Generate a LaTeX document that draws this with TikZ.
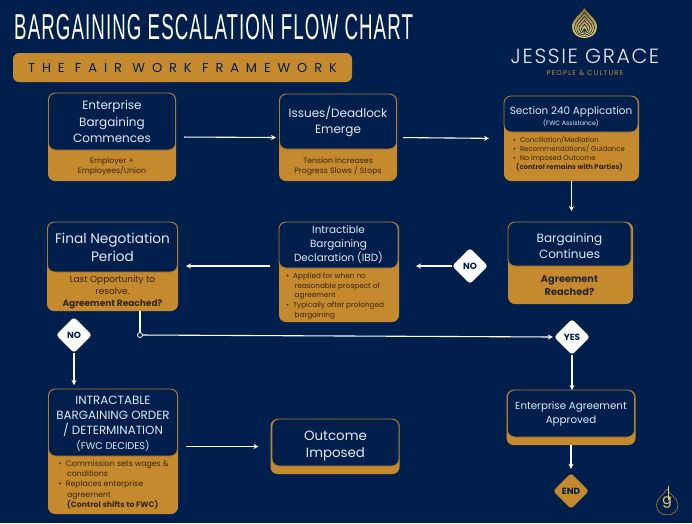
\documentclass[tikz,border=0pt]{standalone}
\usepackage{fontspec}
\setmainfont{Poppins}
\newfontfamily\titlefont[FakeStretch=0.52,LetterSpace=3]{Liberation Sans}
\newfontfamily\framefont[LetterSpace=53]{Poppins}
\newfontfamily\brandfont[LetterSpace=8]{Poppins Light}
\newfontfamily\tagfont[LetterSpace=16]{Poppins}
\usetikzlibrary{shapes.geometric, arrows.meta, positioning}
\definecolor{bgnavy}{HTML}{001F4D}
\definecolor{cardgold}{HTML}{C68A2E}
\definecolor{edgegold}{HTML}{B07C30}
\definecolor{headtext}{HTML}{E3E8F1}
\definecolor{goldtext}{HTML}{35260F}
\definecolor{logolight}{HTML}{F6DC7C}
\definecolor{logodark}{HTML}{8A6C30}

\begin{document}
\begin{tikzpicture}[
  x=1pt, y=-1pt,
  >={Stealth[length=5pt,width=5pt]},
  goldbox/.style={
    rectangle, rounded corners=7pt, fill=cardgold, inner sep=0pt, outer sep=0pt
  },
  headbox/.style={
    rectangle, rounded corners=7pt, fill=bgnavy, draw=edgegold, line width=0.9pt,
    inner sep=0pt, outer sep=0pt, text=headtext, align=center
  },
  goldnote/.style={
    text=goldtext, align=center, inner sep=0pt, font=\fontsize{7.8}{10}\selectfont
  },
  bulletnote/.style={
    text=goldtext, align=left, inner sep=0pt, font=\fontsize{7.3}{9.6}\selectfont
  },
  choice/.style={
    diamond, aspect=1, fill=white, rounded corners=3pt, inner sep=0pt,
    minimum width=36pt, minimum height=36pt, text=bgnavy,
    font=\fontsize{9}{10}\selectfont\bfseries
  },
  flow/.style={
    ->, line width=1.1pt, color=white
  }
]

% Background
\fill[bgnavy] (0,0) rectangle (692,523);

% Heading
\node[text=white, inner sep=0pt, anchor=west, font=\fontsize{36}{40}\titlefont]
  (title) at (14,27) {BARGAINING ESCALATION FLOW CHART};
\node[goldbox, rounded corners=6pt, minimum width=339pt, minimum height=29pt]
  (framebar) at (182.5,67.5) {};
\node[text=bgnavy, inner sep=0pt, font=\fontsize{13}{14}\framefont]
  (frametext) at (framebar) {THE FAIR WORK FRAMEWORK};

% Brand
\fill[bottom color=logolight, top color=logodark]
  (584.5,8) .. controls (588,14) and (597,19) .. (597,27)
  .. controls (597,34) and (591,38) .. (584.5,38)
  .. controls (578,38) and (572,34) .. (572,27)
  .. controls (572,19) and (581,14) .. (584.5,8) -- cycle;
\foreach \s in {0.8,0.62,0.44,0.26}{
  \draw[bgnavy, line width=0.55pt, shift={(584.5,30)}, scale=\s]
    (0,-22) .. controls (3.5,-16) and (12.5,-11) .. (12.5,-3)
    .. controls (12.5,4) and (6.5,8) .. (0,8)
    .. controls (-6.5,8) and (-12.5,4) .. (-12.5,-3)
    .. controls (-12.5,-11) and (-3.5,-16) .. (0,-22) -- cycle;
}
\fill[bgnavy] (584.5,30) circle (1.6pt);
\node[text=headtext, inner sep=0pt, font=\fontsize{20.5}{24}\brandfont]
  (brand) at (585,56) {JESSIE GRACE};
\node[text=cardgold, inner sep=0pt, font=\fontsize{7}{9}\tagfont]
  (brandtag) at (585,73) {PEOPLE \& CULTURE};

% Enterprise bargaining
\node[goldbox, minimum width=128pt, minimum height=88pt] (startg) at (112,137) {};
\node[headbox, minimum width=127pt, minimum height=57pt,
      font=\fontsize{12}{16.5}\selectfont] (starth) at (112,121.5)
  {Enterprise\\Bargaining\\Commences\rule{0pt}{13pt}};
\node[goldnote, below=8pt of starth] (startn) {Employer +\\Employees/Union};

% Issues
\node[goldbox, minimum width=118pt, minimum height=87pt] (issuesg) at (338,137.5) {};
\node[headbox, minimum width=117pt, minimum height=55pt,
      font=\fontsize{12}{16.5}\selectfont] (issuesh) at (338,121.5)
  {Issues/Deadlock\\Emerge};
\node[goldnote, below=8pt of issuesh] (issuesn) {Tension Increases\\Progress Slows / Stops};

% Section 240
\node[goldbox, minimum width=135pt, minimum height=85pt] (sectiong) at (571.5,138.5) {};
\node[headbox, minimum width=134pt, minimum height=36pt] (sectionh) at (571,114)
  {\rule{0pt}{14pt}{\fontsize{10.4}{12.5}\selectfont Section 240 Application}\\[-1pt]
   {\fontsize{6.3}{7.5}\selectfont (FWC Assistance)}};
\node[bulletnote, anchor=north west, below right=4pt and 9pt of sectionh.south west,
      font=\fontsize{6.9}{9}\selectfont] (sectionn)
  {•\hspace{4pt}Conciliation/Mediation\\
   •\hspace{4pt}Recommendations/ Guidance\\
   •\hspace{4pt}No Imposed Outcome\\
   \hspace{3pt}\textbf{(control remains with Parties)}};

% Bargaining continues
\node[goldbox, minimum width=125pt, minimum height=82pt] (continuesg) at (570.5,263) {};
\node[headbox, minimum width=123pt, minimum height=44pt,
      font=\fontsize{12}{16}\selectfont] (continuesh) at (569.5,244)
  {\rule{0pt}{13pt}Bargaining\\Continues};
\node[goldnote, below=9pt of continuesh, font=\fontsize{9.8}{13}\selectfont\bfseries,
      text=black!85] (continuesn) {Agreement\\Reached?};

% Intractable bargaining declaration
\node[goldbox, minimum width=120pt, minimum height=100pt] (ibdg) at (339,272) {};
\node[headbox, minimum width=119pt, minimum height=46pt,
      font=\fontsize{10.4}{14}\selectfont] (ibdh) at (338.5,245)
  {Intractible\\Bargaining\\Declaration (IBD)};
\node[bulletnote, below right=5pt and 7pt of ibdh.south west] (ibdn)
  {•\hspace{4pt}Applied for when no\\
   \hspace{8.5pt}reasonable prospect of\\
   \hspace{8.5pt}agreement\\
   •\hspace{4pt}Typically after prolonged\\
   \hspace{8.5pt}bargaining};

% Final negotiation
\node[goldbox, minimum width=131pt, minimum height=89pt] (finalg) at (112.5,266.5) {};
\node[headbox, minimum width=130pt, minimum height=50pt,
      font=\fontsize{13.7}{18}\selectfont] (finalh) at (112.5,247)
  {Final Negotiation\\Period};
\node[goldnote, below=3pt of finalh, font=\fontsize{9}{12.2}\selectfont] (finaln)
  {Last Opportunity to\\resolve.\\\textbf{Agreement Reached?}};

% Intractable bargaining order
\node[goldbox, minimum width=130pt, minimum height=125pt] (orderg) at (113,451.5) {};
\node[headbox, minimum width=129pt, minimum height=67pt,
      font=\fontsize{11.9}{15}\selectfont] (orderh) at (113,422.5)
  {\rule{0pt}{11pt}INTRACTABLE\\BARGAINING ORDER\\/ DETERMINATION\\{\fontsize{9.8}{13}\selectfont (FWC DECIDES)}};
\node[bulletnote, below right=4pt and 10pt of orderh.south west,
      font=\fontsize{7.8}{10.3}\selectfont] (ordern)
  {•\hspace{4pt}Commission sets wages \&\\
   \hspace{8.5pt}conditions\\
   •\hspace{4pt}Replaces enterprise\\
   \hspace{8.5pt}agreement\\
   \hspace{8.5pt}\textbf{(Control shifts to FWC)}};

% Outcome
\node[goldbox, minimum width=129pt, minimum height=55pt] (outcomeg) at (335,446.5) {};
\node[headbox, minimum width=127pt, minimum height=47pt,
      font=\fontsize{13.4}{17}\selectfont] (outcomeh) at (335.5,442.5)
  {\rule{0pt}{16pt}Outcome\\Imposed};

% Approved
\node[goldbox, minimum width=129pt, minimum height=55pt] (approvedg) at (571,417.5) {};
\node[headbox, minimum width=127pt, minimum height=47pt,
      font=\fontsize{10.3}{14}\selectfont] (approvedh) at (571,413.5)
  {Enterprise Agreement\\Approved};

% Decisions
\node[choice] (nomid) at (470,266) {NO};
\node[choice] (nofinal) at (74,335) {NO};
\node[choice] (yes) at (572,337) {YES};
\node[choice, fill=cardgold] (finish) at (571,491) {END};
\node[circle, draw=white, fill=bgnavy, line width=0.8pt, minimum size=5pt, inner sep=0pt]
  (junction) at (140,335) {};

% Connectors
\draw[flow, shorten <=8pt, shorten >=3pt] (startg.east) -- (issuesg.west);
\draw[flow, shorten <=6pt, shorten >=15pt] (issuesg.east) -- (sectiong.west);
\draw[flow, shorten >=11pt] (sectiong.south) -- (continuesh.north -| sectiong.south);
\draw[flow, shorten >=17pt] (nomid.west) -- (ibdg.east |- nomid.west);
\draw[flow, shorten <=9pt, shorten >=8pt] (ibdg.west |- nomid.west) -- (finalg.east |- nomid.west);
\draw[flow, -] (junction |- finalg.south) -- (junction);
\draw[flow, shorten >=1pt] (junction) -- (yes.west);
\draw[flow, shorten >=4pt] (nofinal.south) -- (nofinal.south |- orderh.north);
\draw[flow, shorten <=8pt, shorten >=12pt] (orderg.east |- outcomeg.west) -- (outcomeg.west);
\draw[flow] (yes.south) -- (yes.south |- approvedh.north);
\draw[flow, shorten >=4pt] (approvedg.south) -- (finish.north);

% Corner mark
\draw[edgegold, line width=0.6pt]
  (667,489) .. controls (669,494) and (678,498) .. (678,505)
  .. controls (678,511) and (673,515) .. (667,515)
  .. controls (661,515) and (656.5,511) .. (656.5,505)
  .. controls (656.5,498) and (665,494) .. (667,489);
\draw[logolight!80!cardgold, line width=0.6pt] (668.5,486) -- (668.5,500);
\node[text=logolight!80!cardgold, inner sep=0pt, font=\fontsize{14}{14}\selectfont]
  (cornermark) at (667,502) {g};

\end{tikzpicture}
\end{document}
